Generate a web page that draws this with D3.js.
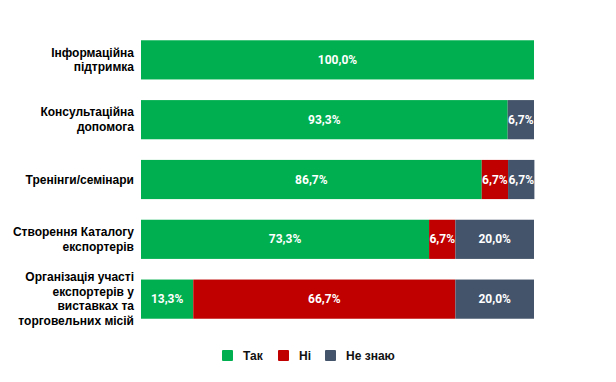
<!DOCTYPE html>
<html><head><meta charset="utf-8">
<script src="https://cdn.jsdelivr.net/npm/d3@7"></script>
<style>body{margin:0;background:#fff}</style>
</head><body>
<svg id="c" width="616" height="382"></svg>
<script>
const categories = [
  ["Інформаційна", "підтримка"],
  ["Консультаційна", "допомога"],
  ["Тренінги/семінари"],
  ["Створення Каталогу", "експортерів"],
  ["Організація участі", "експортерів у", "виставках та", "торговельних місій"]
];
const seriesNames = ["Так", "Ні", "Не знаю"];
const yesValues = [100.0, 93.3, 86.7, 73.3, 13.3];
const noValues = [0, 0, 6.7, 6.7, 66.7];
const dontKnowValues = [0, 6.7, 6.7, 20.0, 20.0];
const colors = ["#00b050", "#c00000", "#44546a"];

const svg = d3.select("#c");
const x = d3.scaleLinear().domain([0, 100]).range([141, 534]);
const y = d3.scaleBand().domain(d3.range(categories.length)).range([30.1, 328.9]).paddingInner(0.345).paddingOuter(0.17);

const series = [yesValues, noValues, dontKnowValues];
const fmt = v => v.toFixed(1).replace(".", ",") + "%";

categories.forEach((cat, i) => {
  let acc = 0;
  series.forEach((vals, s) => {
    const v = vals[i];
    if (v <= 0) return;
    const x0 = x(acc), x1 = x(acc + v);
    svg.append("rect").attr("x", x0).attr("y", y(i)).attr("width", x1 - x0).attr("height", y.bandwidth())
      .attr("fill", colors[s]);
    svg.append("text").attr("x", (x0 + x1) / 2).attr("y", y(i) + y.bandwidth() / 2)
      .attr("text-anchor", "middle").attr("dominant-baseline", "central")
      .attr("fill", "#fff").attr("font-family", "Roboto, sans-serif").attr("font-weight", "bold")
      .attr("font-size", 12).text(fmt(v));
    acc += v;
  });
  const lh = 14.5;
  const cy = y(i) + y.bandwidth() / 2;
  const t = svg.append("text").attr("text-anchor", "end")
    .attr("font-family", "Liberation Sans, Arial, sans-serif").attr("font-weight", "bold")
    .attr("font-size", 12).attr("fill", "#000");
  cat.forEach((line, k) => {
    t.append("tspan").attr("x", 134).attr("y", cy + (k - (cat.length - 1) / 2) * lh)
      .attr("dominant-baseline", "central").text(line);
  });
});

// legend
const legX = [222, 278, 325];
seriesNames.forEach((n, s) => {
  svg.append("rect").attr("x", legX[s]).attr("y", 350).attr("width", 11).attr("height", 11)
    .attr("rx", 1).attr("fill", colors[s]);
  svg.append("text").attr("x", legX[s] + 21).attr("y", 355.5).attr("dominant-baseline", "central")
    .attr("font-family", "Liberation Sans, Arial, sans-serif").attr("font-weight", "bold")
    .attr("font-size", 12).attr("fill", "#111").text(n);
});
</script>
</body></html>
